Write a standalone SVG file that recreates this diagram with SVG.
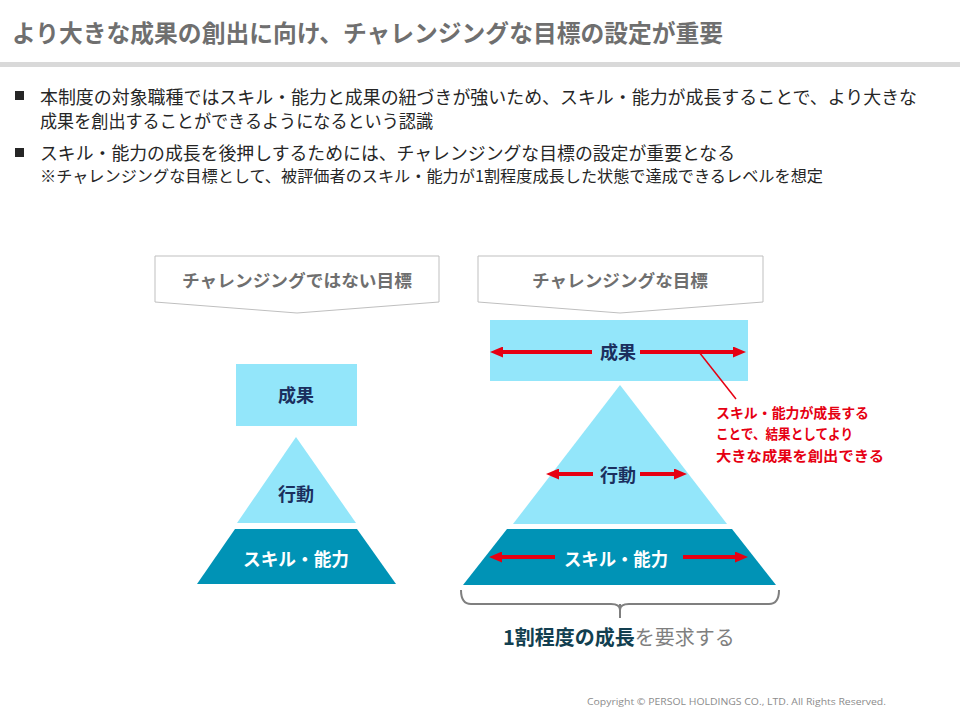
<svg xmlns="http://www.w3.org/2000/svg" width="960" height="720" viewBox="0 0 960 720">
<style>
text{font-family:"Noto Sans CJK JP","Noto Sans",sans-serif}
.title{font-size:24px;font-weight:bold;fill:#6f6f6f}
.body{font-size:18px;fill:#262626}
.note{font-size:16px;fill:#262626}
.hdr{font-size:17px;font-weight:bold;fill:#6f6f6f;text-anchor:middle}
.hbox{fill:#fff;stroke:#bfbfbf;stroke-width:1}
.lt{fill:#93E6FA}
.dk{fill:#0093B6}
.lbl{font-size:18px;font-weight:bold;fill:#1B2F5E;text-anchor:middle}
.lblw{font-size:18px;font-weight:bold;fill:#fff;text-anchor:middle}
.arr{stroke:#E60012;stroke-width:4;fill:none;marker-end:url(#ah)}
.red{font-size:14px;font-weight:bold;fill:#E60012}
</style>
<defs>
<marker id="ah" viewBox="0 0 13 11" refX="5" refY="5.5" markerWidth="13" markerHeight="11" markerUnits="userSpaceOnUse" orient="auto">
<path d="M0,0 L13,5.5 L0,11 z" fill="#E60012"/>
</marker>
</defs>
<rect width="960" height="720" fill="#fff"/>
<text class="title" x="12" y="42" textLength="711" lengthAdjust="spacingAndGlyphs">より大きな成果の創出に向け、チャレンジングな目標の設定が重要</text>
<rect x="0" y="62" width="960" height="5" fill="#d9d9d9"/>
<rect x="15" y="91" width="9" height="9" fill="#262626"/>
<text class="body" x="40" y="104" textLength="877" lengthAdjust="spacingAndGlyphs">本制度の対象職種ではスキル・能力と成果の紐づきが強いため、スキル・能力が成長することで、より大きな</text>
<text class="body" x="40" y="128" textLength="393" lengthAdjust="spacingAndGlyphs">成果を創出することができるようになるという認識</text>
<rect x="15" y="148" width="9" height="9" fill="#262626"/>
<text class="body" x="40" y="160" textLength="695" lengthAdjust="spacingAndGlyphs">スキル・能力の成長を後押しするためには、チャレンジングな目標の設定が重要となる</text>
<text class="note" x="40" y="182" textLength="783" lengthAdjust="spacingAndGlyphs">※チャレンジングな目標として、被評価者のスキル・能力が1割程度成長した状態で達成できるレベルを想定</text>

<g id="hdr-left">
<polygon class="hbox" points="155,256 439,256 439,302 297,313 155,302"/>
<text class="hdr" x="297" y="287" textLength="230" lengthAdjust="spacingAndGlyphs">チャレンジングではない目標</text>
</g>
<g id="hdr-right">
<polygon class="hbox" points="478,256 763,256 763,302 620,313 478,302"/>
<text class="hdr" x="620" y="287" textLength="176" lengthAdjust="spacingAndGlyphs">チャレンジングな目標</text>
</g>

<g id="left-result">
<rect class="lt" x="236" y="364" width="121" height="62"/>
<text class="lbl" x="296" y="402">成果</text>
</g>
<g id="left-action">
<polygon class="lt" points="296,437 356,523 237,523"/>
<text class="lbl" x="296" y="501">行動</text>
</g>
<g id="left-skill">
<polygon class="dk" points="235,529 357,529 396,584 197,584"/>
<text class="lblw" x="296" y="566" textLength="106" lengthAdjust="spacingAndGlyphs">スキル・能力</text>
</g>

<g id="right-result">
<rect class="lt" x="490" y="320" width="258" height="61"/>
<text class="lbl" x="618" y="359">成果</text>
</g>
<g id="right-action">
<polygon class="lt" points="620,385 727,524 513,524"/>
<text class="lbl" x="618" y="482">行動</text>
</g>
<g id="right-skill">
<polygon class="dk" points="507,529 732,529 776,585 463,585"/>
<text class="lblw" x="616" y="566" textLength="104" lengthAdjust="spacingAndGlyphs">スキル・能力</text>
</g>

<g id="connectors">
<path class="arr" d="M592,352 L498,352"/>
<path class="arr" d="M640,352 L738,352"/>
<path class="arr" d="M593,474 L554,474"/>
<path class="arr" d="M640,474 L679,474"/>
<path class="arr" d="M555,557 L497,557"/>
<path class="arr" d="M683,557 L740,557"/>
<path d="M699,352 L736,399" stroke="#E60012" stroke-width="1.5" fill="none"/>
<path d="M461,590 Q461,604 471,604 L611,604 Q620,604 620,610 Q620,604 629,604 L769,604 Q779,604 779,590 M620,604 L620,618" stroke="#7f7f7f" stroke-width="2" fill="none"/>
</g>

<g id="callout">
<text class="red" x="716" y="418" textLength="153" lengthAdjust="spacingAndGlyphs">スキル・能力が成長する</text>
<text class="red" x="716" y="439" textLength="137" lengthAdjust="spacingAndGlyphs">ことで、結果としてより</text>
<text class="red" x="716" y="461" textLength="168" lengthAdjust="spacingAndGlyphs">大きな成果を創出できる</text>
</g>

<g id="footer-label">
<text x="503" y="645" font-size="20"><tspan font-weight="bold" fill="#123F50">1割程度の成長</tspan><tspan fill="#7f7f7f">を要求する</tspan></text>
</g>
<text x="587" y="705" font-size="9.5" fill="#8c8c8c" textLength="299" lengthAdjust="spacingAndGlyphs" style="font-family:'Open Sans','Liberation Sans',sans-serif">Copyright © PERSOL HOLDINGS CO., LTD. All Rights Reserved.</text>
</svg>
